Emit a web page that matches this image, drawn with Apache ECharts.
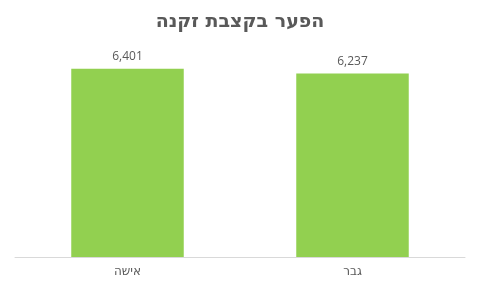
<!DOCTYPE html>
<html><head><meta charset="utf-8">
<script src="https://cdn.jsdelivr.net/npm/echarts@6/dist/echarts.min.js"></script>
<style>html,body{margin:0;padding:0;background:#fff}#c{width:480px;height:288px}</style>
</head><body><div id="c"></div>
<script>
const title = 'הפער בקצבת זקנה';
const categories = ['אישה', 'גבר'];
const values = [6401, 6237];
const yMax = 7000;

const chart = echarts.init(document.getElementById('c'), null, {renderer: 'canvas'});
chart.setOption({
  animation: false,
  title: {
    text: title, left: 'center', top: 8,
    textStyle: {fontFamily: 'DejaVu Sans', fontSize: 19, fontWeight: 'bold', color: '#595959'}
  },
  grid: {left: 15, right: 15, top: 51, bottom: 31},
  xAxis: {
    type: 'category', data: categories,
    axisLine: {lineStyle: {color: '#d9d9d9', width: 1}},
    axisTick: {show: false},
    axisLabel: {color: '#595959', fontFamily: 'DejaVu Sans', fontSize: 12, margin: 9}
  },
  yAxis: {type: 'value', min: 0, max: yMax, show: false, splitLine: {show: false}},
  series: [{
    type: 'bar', data: values, barWidth: '50%',
    itemStyle: {color: '#92D050'},
    label: {
      show: true, position: 'top', distance: 6, color: '#595959',
      fontFamily: 'Open Sans', fontSize: 12,
      formatter: p => p.value.toLocaleString('en-US')
    }
  }]
});
</script></body></html>
